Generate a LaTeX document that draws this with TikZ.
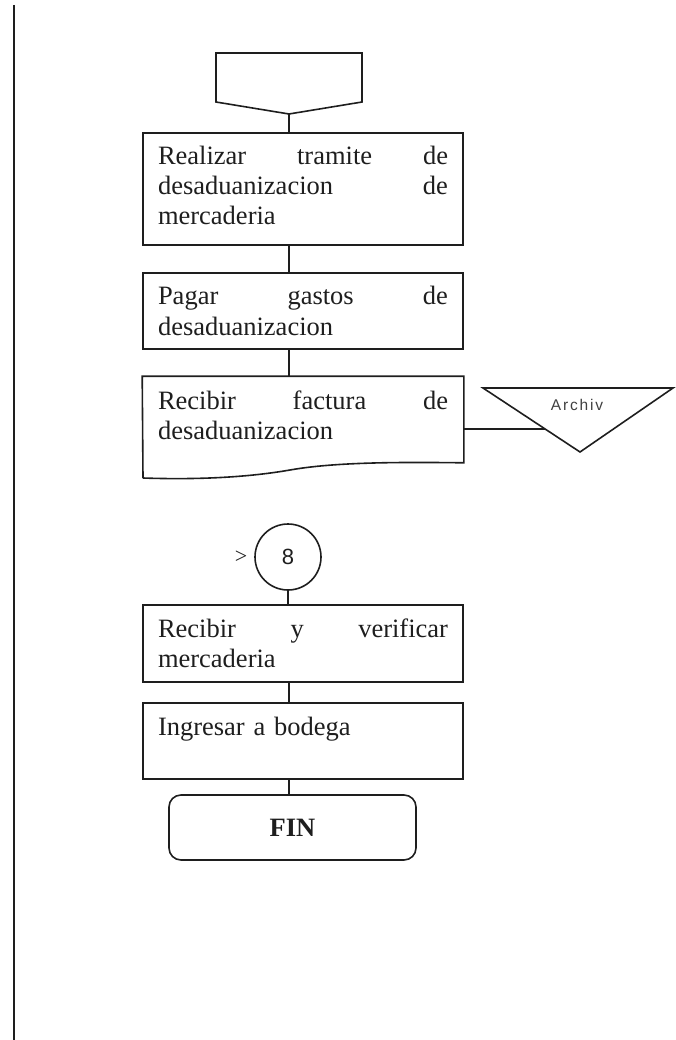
\documentclass[tikz,border=0pt]{standalone}
\usepackage{fontspec}
\setmainfont{Liberation Serif}
\setsansfont{Liberation Sans}
\newfontfamily\archfont[LetterSpace=12]{Liberation Sans}
\usetikzlibrary{positioning}
\definecolor{ink}{RGB}{30,30,30}

\begin{document}
\begin{tikzpicture}[x=1pt,y=-1pt,
  line/.style={draw=ink,line width=1.6pt},
  proc/.style={line,minimum width=320pt,text width=290pt,inner xsep=15pt,inner ysep=0pt,
               text height=32pt,font=\fontsize{26.5}{30}\selectfont},
  term/.style={line,rounded corners=12pt,minimum width=247pt,minimum height=65pt,
               font=\fontsize{26.5}{30}\selectfont\bfseries},
  every node/.style={text=ink}
]
\useasboundingbox (0,0) rectangle (676,1040);
% page margin line
\draw[draw=ink,line width=2.4pt] (14,5) -- (14,1040);
% off-page connector
\draw[line] (216,53) -- (362,53) -- (362,102) -- (289,114) -- (216,102) -- cycle;
\coordinate (offp) at (289,114);

\node[proc,text depth=80pt] (b1) at (303,189) {Realizar \hfill tramite \hfill de\\ desaduanizacion \hfill de\\ mercaderia};
\node[proc,text depth=44pt] (b2) at (303,311) {Pagar \hfill gastos \hfill de\\ desaduanizacion};
\node[proc,draw=none,text depth=53pt] (b3) at (303,419.5) {Recibir \hfill factura \hfill de\\ desaduanizacion};
\draw[line] (143,478) -- (b3.north west) -- (b3.north east) -- (b3.south east)
  .. controls (400,462) and (335,462) .. (290,470) .. controls (250,477) and (200,480) .. (143,478);

% archive
\draw[line] (483,388) -- (673,388) -- (580,452) -- cycle;
\node[font=\archfont\fontsize{15.5}{18}\selectfont,text=ink!85] (arch) at (577,405) {Archiv};
\coordinate (archin) at (545,429);

% on-page connector
\node[line,circle,minimum size=66pt,inner sep=0pt,font=\sffamily\fontsize{22}{26}\selectfont] (c8) at (288,557) {8};
\node[font=\fontsize{22}{26}\selectfont] (gt) at (241,557) {>};

\node[proc,text depth=45pt] (b4) at (303,643.5) {Recibir \hfill y \hfill verificar\\ mercaderia};
\node[proc,text depth=44pt] (b5) at (303,741) {Ingresar a bodega};
\node[term] (fin) at (292.5,827.5) {FIN};

\draw[line] (offp) -- (offp |- b1.north); \draw[line] (offp |- b1.south) -- (offp |- b2.north);
\draw[line] (offp |- b2.south) -- (offp |- b3.north); \draw[line] (b3.east |- archin) -- (archin);
\draw[line] (c8.south) -- (c8.south |- b4.north); \draw[line] (offp |- b4.south) -- (offp |- b5.north);
\draw[line] (offp |- b5.south) -- (offp |- fin.north);
\end{tikzpicture}
\end{document}
